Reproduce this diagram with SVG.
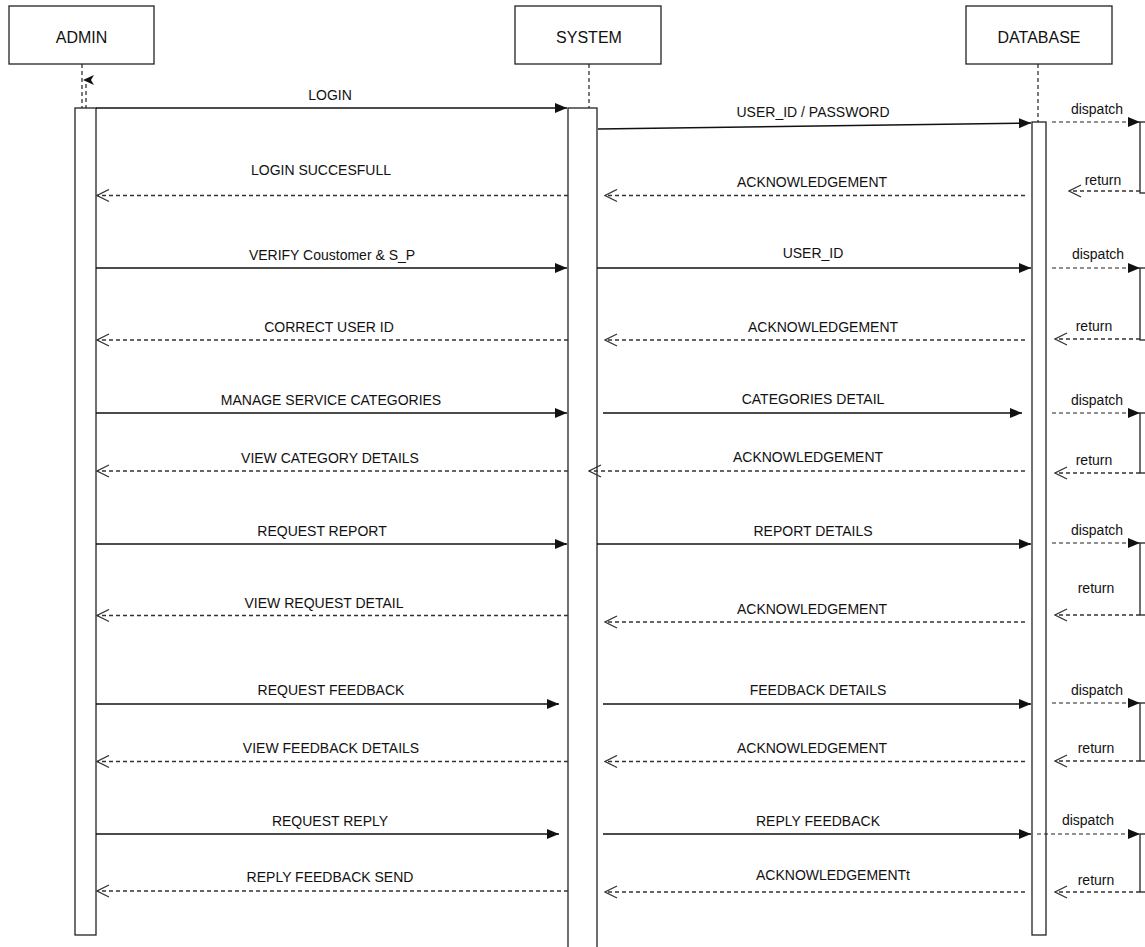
<svg xmlns="http://www.w3.org/2000/svg" width="1145" height="947" viewBox="0 0 1145 947">
<style>
.box{fill:#fff;stroke:#222;stroke-width:1.3}
.life{fill:none;stroke:#222;stroke-width:1.2;stroke-dasharray:4,3}
.hdr{font-family:"Liberation Sans",Arial,sans-serif;font-size:16px;fill:#111;text-anchor:middle}
.lbl{font-family:"Liberation Sans",Arial,sans-serif;font-size:14px;fill:#111;text-anchor:middle}
.call{fill:none;stroke:#111;stroke-width:1.4;marker-end:url(#fa)}
.ret{fill:none;stroke:#333;stroke-width:1.3;stroke-dasharray:4,3;marker-end:url(#oa)}
.disp{fill:none;stroke:#222;stroke-width:1.2;stroke-dasharray:4,3;marker-end:url(#fa)}
</style>
<defs>
<marker id="fa" markerUnits="userSpaceOnUse" markerWidth="13" markerHeight="11" refX="12" refY="5.5" orient="auto"><path d="M0,0.5 L12,5.5 L0,10.5 z" fill="#111"/></marker>
<marker id="oa" markerUnits="userSpaceOnUse" markerWidth="14" markerHeight="14" refX="13" refY="7" orient="auto"><path d="M1,1 L13,7 L1,13" fill="none" stroke="#333" stroke-width="1.3"/></marker>
</defs>
<rect width="1145" height="947" fill="#fff"/>

<g id="admin">
<rect class="box" x="9" y="6" width="145" height="58"/>
<text class="hdr" x="81.5" y="43">ADMIN</text>
<path class="life" d="M82,64 V108 M86,84 V108"/>
<path d="M83,80 L94,75 L91,80 L94,85 z" fill="#111"/>
<rect class="box" x="75" y="108" width="21" height="827"/>
</g>

<g id="system">
<rect class="box" x="515" y="6" width="146" height="58"/>
<text class="hdr" x="589" y="43">SYSTEM</text>
<path class="life" d="M589,64 V108"/>
<rect class="box" x="568" y="108" width="29" height="845"/>
</g>

<g id="database">
<rect class="box" x="966" y="6" width="146" height="58"/>
<text class="hdr" x="1039" y="43">DATABASE</text>
<path class="life" d="M1038,64 V122"/>
<rect class="box" x="1032" y="122" width="14" height="813"/>
</g>

<g id="self-boxes">
<rect class="box" x="1140" y="122" width="30" height="71"/>
<rect class="box" x="1140" y="268" width="30" height="72"/>
<rect class="box" x="1140" y="413" width="30" height="60"/>
<rect class="box" x="1140" y="543" width="30" height="72"/>
<rect class="box" x="1140" y="703" width="30" height="58"/>
<rect class="box" x="1140" y="834" width="30" height="58"/>
</g>

<g id="connectors">
<path class="call" d="M96,108 H567"/>
<path class="call" d="M598,129 L1031,123"/>
<path class="disp" d="M1052,122 H1140"/>
<path class="ret" d="M568,195.5 H97"/>
<path class="ret" d="M1025,195.5 H605"/>
<path class="ret" d="M1140,191 H1069"/>
<path class="call" d="M96,268 H567"/>
<path class="call" d="M597,268 H1031"/>
<path class="disp" d="M1052,268 H1140"/>
<path class="ret" d="M568,340 H97"/>
<path class="ret" d="M1025,340 H605"/>
<path class="ret" d="M1140,339 H1055"/>
<path class="call" d="M96,413 H567"/>
<path class="call" d="M603,413 H1022"/>
<path class="disp" d="M1052,413 H1140"/>
<path class="ret" d="M568,471 H97"/>
<path class="ret" d="M1025,471 H589"/>
<path class="ret" d="M1140,473 H1055"/>
<path class="call" d="M96,544 H567"/>
<path class="call" d="M597,544 H1031"/>
<path class="disp" d="M1052,543 H1140"/>
<path class="ret" d="M568,615.5 H97"/>
<path class="ret" d="M1025,622 H605"/>
<path class="ret" d="M1140,615 H1055"/>
<path class="call" d="M96,704 H559"/>
<path class="call" d="M603,704 H1031"/>
<path class="disp" d="M1052,703 H1140"/>
<path class="ret" d="M568,761.5 H97"/>
<path class="ret" d="M1025,761.5 H605"/>
<path class="ret" d="M1140,761 H1055"/>
<path class="call" d="M96,834 H559"/>
<path class="call" d="M603,834 H1031"/>
<path class="disp" d="M1037,834 H1140"/>
<path class="ret" d="M568,891 H97"/>
<path class="ret" d="M1025,892 H605"/>
<path class="ret" d="M1140,892 H1055"/>
</g>

<g id="labels">
<text class="lbl" x="330" y="100">LOGIN</text>
<text class="lbl" x="813" y="117">USER_ID / PASSWORD</text>
<text class="lbl" x="1097" y="114">dispatch</text>
<text class="lbl" x="321" y="175">LOGIN SUCCESFULL</text>
<text class="lbl" x="812" y="187">ACKNOWLEDGEMENT</text>
<text class="lbl" x="1103" y="185">return</text>

<text class="lbl" x="332" y="260">VERIFY Coustomer &amp; S_P</text>
<text class="lbl" x="813" y="258">USER_ID</text>
<text class="lbl" x="1098" y="259">dispatch</text>
<text class="lbl" x="329" y="332">CORRECT USER ID</text>
<text class="lbl" x="823" y="332">ACKNOWLEDGEMENT</text>
<text class="lbl" x="1094" y="331">return</text>

<text class="lbl" x="331" y="405">MANAGE SERVICE CATEGORIES</text>
<text class="lbl" x="813" y="404">CATEGORIES DETAIL</text>
<text class="lbl" x="1097" y="405">dispatch</text>
<text class="lbl" x="330" y="463">VIEW CATEGORY DETAILS</text>
<text class="lbl" x="808" y="462">ACKNOWLEDGEMENT</text>
<text class="lbl" x="1094" y="465">return</text>

<text class="lbl" x="322" y="536">REQUEST REPORT</text>
<text class="lbl" x="813" y="536">REPORT DETAILS</text>
<text class="lbl" x="1097" y="535">dispatch</text>
<text class="lbl" x="324" y="608">VIEW REQUEST DETAIL</text>
<text class="lbl" x="812" y="614">ACKNOWLEDGEMENT</text>
<text class="lbl" x="1096" y="593">return</text>

<text class="lbl" x="331" y="695">REQUEST FEEDBACK</text>
<text class="lbl" x="818" y="695">FEEDBACK DETAILS</text>
<text class="lbl" x="1097" y="695">dispatch</text>
<text class="lbl" x="331" y="753">VIEW FEEDBACK DETAILS</text>
<text class="lbl" x="812" y="753">ACKNOWLEDGEMENT</text>
<text class="lbl" x="1096" y="753">return</text>

<text class="lbl" x="330" y="826">REQUEST REPLY</text>
<text class="lbl" x="818" y="826">REPLY FEEDBACK</text>
<text class="lbl" x="1088" y="825">dispatch</text>
<text class="lbl" x="330" y="882">REPLY FEEDBACK SEND</text>
<text class="lbl" x="833" y="880">ACKNOWLEDGEMENTt</text>
<text class="lbl" x="1096" y="885">return</text>
</g>
</svg>
